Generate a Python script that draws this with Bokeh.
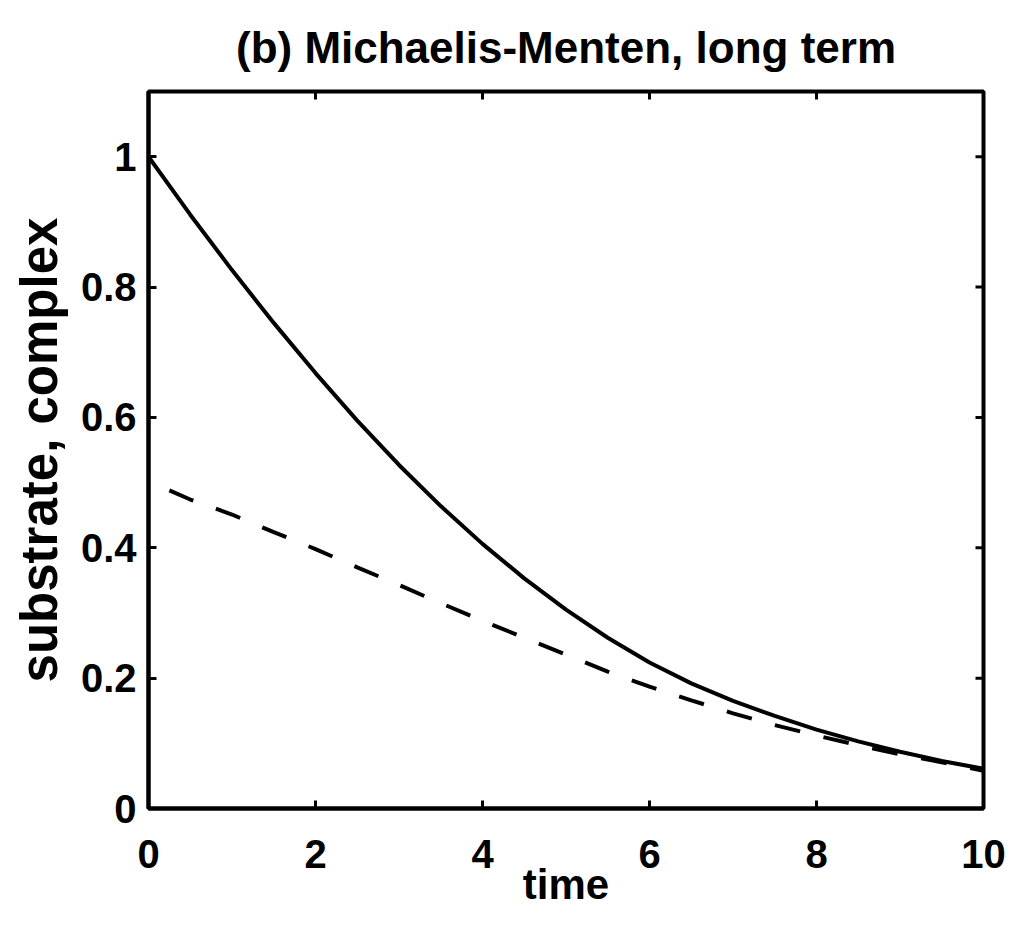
import math
from bokeh.plotting import figure
from bokeh.models import Range1d, FixedTicker
from bokeh.embed import file_html
from bokeh.resources import INLINE

# substrate (solid)
t_sub = [0.0, 0.5, 1.0, 1.5, 2.0, 2.5, 3.0, 3.5, 4.0, 4.5, 5.0,
         5.5, 6.0, 6.5, 7.0, 7.5, 8.0, 8.5, 9.0, 9.5, 10.0]
substrate = [1.000, 0.911, 0.826, 0.745, 0.668, 0.595, 0.527, 0.464, 0.406, 0.353, 0.305,
             0.262, 0.224, 0.192, 0.165, 0.142, 0.121, 0.103, 0.087, 0.073, 0.061]

# complex (dashed)
t_cplx = [0.25, 0.5, 1.0, 1.5, 2.0, 2.5, 3.0, 3.5, 4.0, 4.5, 5.0,
          5.5, 6.0, 6.5, 7.0, 7.5, 8.0, 8.5, 9.0, 9.5, 10.0]
complex_ = [0.488, 0.474, 0.451, 0.424, 0.398, 0.370, 0.343, 0.315, 0.288, 0.262, 0.236,
            0.210, 0.187, 0.166, 0.146, 0.128, 0.112, 0.097, 0.083, 0.071, 0.058]

x_ticks = [0, 2, 4, 6, 8, 10]
y_ticks = [0, 0.2, 0.4, 0.6, 0.8, 1.0]
y_tick_labels = {0: "0", 0.2: "0.2", 0.4: "0.4", 0.6: "0.6", 0.8: "0.8", 1.0: "1"}

FONT = "Liberation Sans"
X_MIN, X_MAX = 0, 10
Y_MIN, Y_MAX = 0, 1.1

p = figure(width=1008, height=918, output_backend="svg", toolbar_location=None,
           x_range=Range1d(X_MIN, X_MAX), y_range=Range1d(Y_MIN, Y_MAX),
           min_border_left=148, min_border_right=25, min_border_top=87, min_border_bottom=110,
           title="(b) Michaelis-Menten, long term")

p.title.text_font = FONT
p.title.text_font_size = "44px"
p.title.text_font_style = "bold"
p.title.align = "center"
p.title.offset = -12
p.title.text_color = "black"
p.title.standoff = 40

p.grid.visible = False
p.outline_line_color = "black"
p.outline_line_width = 4

p.line(t_sub, substrate, line_color="black", line_width=4)
p.line(t_cplx, complex_, line_color="black", line_width=4, line_dash="26 24")

# mirrored inward ticks on the right and top edges
p.scatter([X_MAX] * len(y_ticks), y_ticks, marker="dash", size=16,
          line_color="black", line_width=3)
p.scatter(x_ticks, [Y_MAX] * len(x_ticks), marker="dash", size=16, angle=math.pi / 2,
          line_color="black", line_width=3)

def style(ax):
    ax.axis_line_width = 4
    ax.axis_line_color = "black"
    ax.major_tick_in = 8
    ax.major_tick_out = 0
    ax.major_tick_line_width = 3
    ax.major_tick_line_color = "black"
    ax.minor_tick_line_color = None
    ax.major_label_text_font = FONT
    ax.major_label_text_font_style = "bold"
    ax.major_label_text_color = "black"
    ax.major_label_text_font_size = "40px"
    ax.axis_label_text_font = FONT
    ax.axis_label_text_font_style = "bold"
    ax.axis_label_text_color = "black"

xa = p.xaxis[0]
xa.ticker = FixedTicker(ticks=x_ticks)
style(xa)
xa.major_label_standoff = 31
xa.axis_label = "time"
xa.axis_label_text_font_size = "42px"
xa.axis_label_standoff = -10

ya = p.yaxis[0]
ya.ticker = FixedTicker(ticks=y_ticks)
ya.major_label_overrides = y_tick_labels
style(ya)
ya.major_label_standoff = 12
ya.axis_label = "substrate, complex"
ya.axis_label_text_font_size = "51px"
ya.axis_label_standoff = 10

open("out.html", "w").write(file_html(p, INLINE))
